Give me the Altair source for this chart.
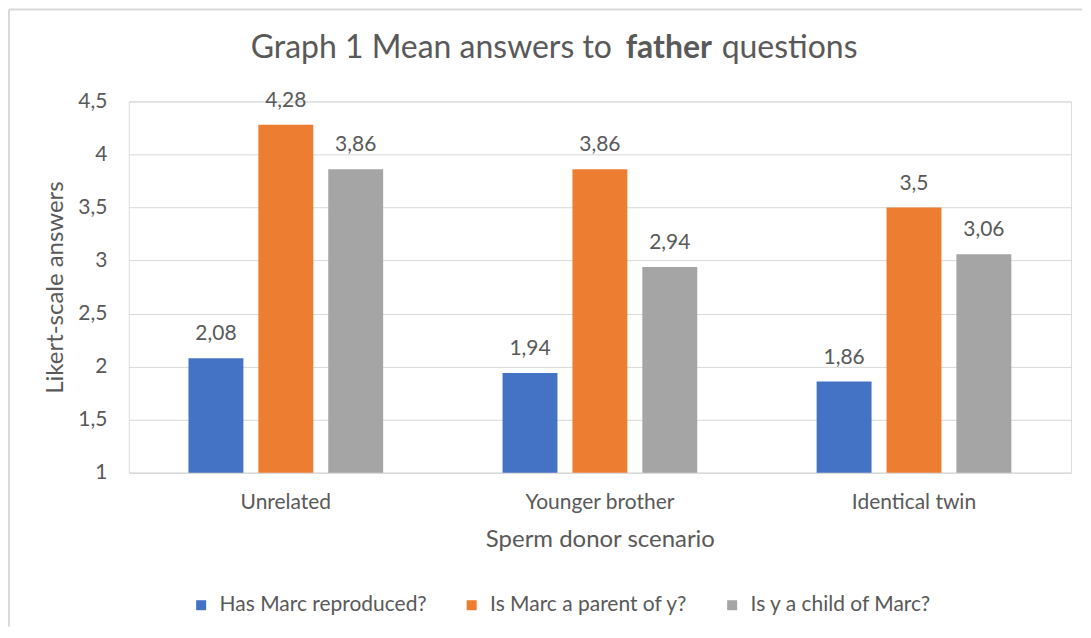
import altair as alt
import pandas as pd

scenarios = ["Unrelated", "Younger brother", "Identical twin"]
questions = ["Has Marc reproduced?", "Is Marc a parent of y?", "Is y a child of Marc?"]
has_reproduced = [2.08, 1.94, 1.86]
is_parent = [4.28, 3.86, 3.5]
is_child = [3.86, 2.94, 3.06]
colors = ["#4472C4", "#ED7D31", "#A5A5A5"]
y_ticks = [1, 1.5, 2, 2.5, 3, 3.5, 4, 4.5]

rows = []
for q, vals in zip(questions, [has_reproduced, is_parent, is_child]):
    for s, v in zip(scenarios, vals):
        rows.append({"scenario": s, "question": q, "value": v})
df = pd.DataFrame(rows)

FONT = "Lato"
TXT = "#595959"
GRID = "#D9D9D9"
W, H = 944, 372

x_enc = alt.X("scenario:N", sort=scenarios, scale=alt.Scale(paddingInner=0, paddingOuter=0),
              axis=alt.Axis(title="Sperm donor scenario", labelAngle=0, ticks=False,
                            domainColor=GRID, domainWidth=1, labelPadding=19,
                            labelFontSize=21, labelColor=TXT, labelFont=FONT,
                            titleFontSize=24, titleColor=TXT, titleFont=FONT,
                            titleFontWeight="normal", titlePadding=15, grid=False))
xo_enc = alt.XOffset("question:N", sort=questions,
                     scale=alt.Scale(paddingInner=0.214, paddingOuter=0.854))
y_scale = alt.Scale(domain=[1, 4.5], zero=False, nice=False)

base = alt.Chart(df).transform_calculate(
    label="replace(format(datum.value, '.2~f'), '.', ',')"
)

bars = base.mark_bar().encode(
    x=x_enc,
    xOffset=xo_enc,
    y=alt.Y("value:Q", scale=y_scale,
            axis=alt.Axis(title="Likert-scale answers", values=y_ticks,
                          labelExpr="replace(format(datum.value, '.1~f'), '.', ',')",
                          ticks=False, domain=False, gridColor=GRID, labelPadding=22,
                          labelFontSize=21, labelColor=TXT, labelFont=FONT,
                          titleFontSize=24, titleColor=TXT, titleFont=FONT,
                          titleFontWeight="normal", titlePadding=10)),
    y2=alt.datum(1),
    color=alt.Color("question:N", sort=questions,
                    scale=alt.Scale(domain=questions, range=colors),
                    legend=alt.Legend(title=None, orient="none", legendX=62, legendY=494,
                                      direction="horizontal", symbolType="square",
                                      symbolSize=100, symbolStrokeWidth=0,
                                      labelFontSize=21, labelColor=TXT, labelFont=FONT,
                                      labelLimit=0, labelOffset=8, columnPadding=34,
                                      padding=0)),
)

labels = base.mark_text(baseline="alphabetic", dy=-18, fontSize=21, color=TXT, font=FONT).encode(
    x=alt.X("scenario:N", sort=scenarios),
    xOffset=alt.XOffset("question:N", sort=questions),
    y=alt.Y("value:Q"),
    text="label:N",
)

one = pd.DataFrame({"k": [0]})
t_left = alt.Chart(one).mark_text(align="right", baseline="alphabetic", fontSize=32,
                                  color=TXT, font=FONT).encode(
    x=alt.value(484), y=alt.value(-43), text=alt.value("Graph 1 Mean answers to"))
t_bold = alt.Chart(one).mark_text(align="center", baseline="alphabetic", fontSize=32,
                                  fontWeight="bold", color=TXT, font=FONT).encode(
    x=alt.value(541), y=alt.value(-43), text=alt.value("father"))
t_right = alt.Chart(one).mark_text(align="left", baseline="alphabetic", fontSize=32,
                                   color=TXT, font=FONT).encode(
    x=alt.value(594), y=alt.value(-43), text=alt.value("questions"))

border_top = alt.Chart(one).mark_rule(color=GRID, strokeWidth=2).encode(
    x=alt.value(-120), x2=alt.value(955), y=alt.value(-92))
border_left = alt.Chart(one).mark_rule(color=GRID, strokeWidth=2).encode(
    x=alt.value(-120), y=alt.value(-92), y2=alt.value(526))

chart = alt.layer(border_top, border_left, bars, labels, t_left, t_bold, t_right).resolve_scale(
    color="independent"
).properties(width=W, height=H, padding=0).configure_view(stroke=None).configure(
    font=FONT, background="white")

chart.save("out.html", embed_options={"renderer": "svg", "actions": False})
